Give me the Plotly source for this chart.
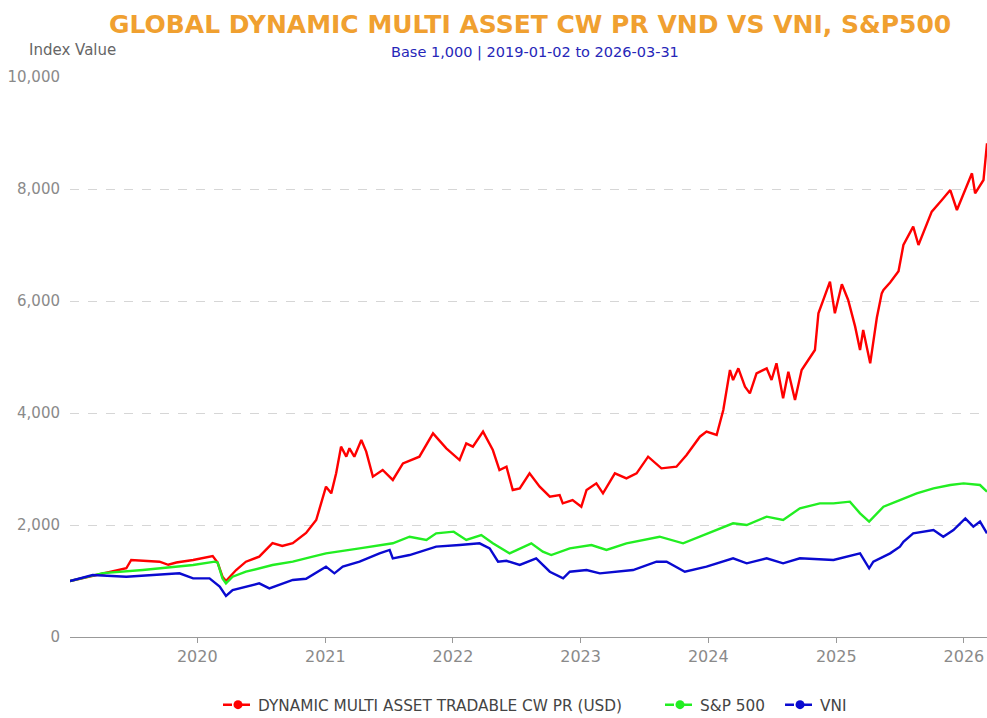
import plotly.graph_objects as go

red_dates = ["2019-01-02","2019-03-08","2019-04-06","2019-06-12","2019-06-26","2019-07-29","2019-09-15","2019-10-10","2019-11-02","2019-12-20",
"2020-02-14","2020-02-28","2020-03-13","2020-03-23","2020-04-21","2020-05-19","2020-06-26","2020-08-03","2020-08-31","2020-09-30",
"2020-11-07","2020-12-06","2021-01-03","2021-01-18","2021-02-01","2021-02-15","2021-03-02","2021-03-11","2021-03-25","2021-04-14",
"2021-04-28","2021-05-17","2021-06-14","2021-07-13","2021-08-11","2021-09-27","2021-11-05","2021-12-13","2022-01-20","2022-02-08",
"2022-02-27","2022-03-28","2022-04-25","2022-05-14","2022-06-03","2022-06-21","2022-07-11","2022-08-08","2022-09-06","2022-10-05",
"2022-11-02","2022-11-11","2022-12-09","2023-01-03","2023-01-18","2023-02-15","2023-03-06","2023-04-09","2023-05-12","2023-06-10",
"2023-07-13","2023-08-20","2023-10-02","2023-10-31","2023-12-08","2023-12-27","2024-01-25","2024-02-13","2024-03-03","2024-03-12",
"2024-03-27","2024-04-15","2024-04-29","2024-05-18","2024-06-16","2024-06-30","2024-07-14","2024-08-02","2024-08-17","2024-09-05",
"2024-09-24","2024-10-13","2024-11-01","2024-11-11","2024-11-25","2024-12-14","2024-12-28","2025-01-17","2025-02-04","2025-02-24",
"2025-03-10","2025-03-19","2025-04-08","2025-04-27","2025-05-11","2025-05-16","2025-06-04","2025-06-28","2025-07-12","2025-08-09",
"2025-08-24","2025-10-01","2025-10-30","2025-11-23","2025-12-12","2026-01-24","2026-02-02","2026-02-26","2026-03-08"]
red_values = [1000,1090,1140,1227,1375,1360,1345,1290,1330,1375,
1446,1330,1077,1000,1196,1345,1434,1677,1625,1677,
1857,2089,2684,2565,2923,3399,3220,3370,3220,3518,
3310,2863,2982,2804,3101,3220,3637,3370,3160,3458,
3399,3667,3339,2982,3041,2625,2655,2923,2684,2506,
2536,2387,2446,2327,2625,2744,2565,2923,2833,2923,
3220,3012,3041,3250,3577,3667,3607,4054,4768,4589,
4798,4470,4351,4708,4798,4589,4887,4262,4738,4232,
4768,4946,5125,5780,6018,6345,5780,6300,6018,5542,
5125,5482,4887,5700,6137,6196,6330,6530,7000,7327,
7000,7595,7804,7982,7625,8280,7923,8161,8815]

spx_dates = ["2019-01-02","2019-04-06","2019-07-29","2019-12-20","2020-02-20","2020-02-28","2020-03-13","2020-03-23","2020-04-11","2020-05-19",
"2020-08-03","2020-09-30","2020-11-26","2021-01-03","2021-04-09","2021-07-13","2021-08-30","2021-10-17","2021-11-14","2022-01-03",
"2022-02-08","2022-03-23","2022-04-25","2022-06-12","2022-08-13","2022-09-15","2022-10-09","2022-12-01","2023-02-01","2023-03-16",
"2023-05-12","2023-08-15","2023-10-21","2023-12-08","2024-03-12","2024-04-20","2024-06-16","2024-08-02","2024-09-19","2024-11-15",
"2024-12-24","2025-02-09","2025-03-10","2025-04-05","2025-05-16","2025-07-02","2025-08-19","2025-10-06","2025-11-23","2025-12-31",
"2026-02-16","2026-03-08"]
spx_values = [1000,1140,1196,1286,1345,1330,1047,958,1077,1166,
1286,1345,1434,1494,1583,1673,1791,1732,1851,1881,
1732,1821,1673,1494,1673,1524,1464,1583,1643,1554,
1673,1791,1673,1791,2030,2000,2149,2089,2297,2387,
2387,2417,2208,2060,2327,2446,2565,2655,2714,2744,
2714,2595]

vni_dates = ["2019-01-02","2019-03-08","2019-06-12","2019-09-15","2019-11-11","2019-12-20","2020-02-05","2020-03-05","2020-03-23","2020-04-11",
"2020-05-19","2020-06-26","2020-07-25","2020-09-30","2020-11-07","2021-01-03","2021-01-27","2021-02-20","2021-04-09","2021-06-05",
"2021-07-04","2021-07-13","2021-08-30","2021-11-14","2022-01-20","2022-03-18","2022-04-16","2022-05-10","2022-06-03","2022-07-11",
"2022-08-27","2022-10-05","2022-11-12","2022-12-01","2023-01-18","2023-02-25","2023-05-31","2023-08-06","2023-09-04","2023-10-26",
"2023-12-27","2024-03-12","2024-04-20","2024-06-16","2024-08-02","2024-09-19","2024-12-24","2025-03-10","2025-04-05","2025-04-17",
"2025-06-04","2025-07-02","2025-07-12","2025-08-09","2025-10-06","2025-11-03","2025-12-02","2026-01-05","2026-01-28","2026-02-16",
"2026-03-08"]
vni_values = [1000,1107,1077,1107,1137,1047,1047,899,732,839,
899,958,869,1018,1040,1256,1137,1256,1345,1494,
1554,1405,1464,1613,1643,1673,1583,1345,1360,1286,
1405,1166,1047,1166,1196,1137,1196,1345,1345,1166,
1256,1405,1315,1405,1315,1405,1375,1494,1226,1345,
1494,1613,1700,1851,1910,1791,1910,2119,1970,2060,
1851]

series_names = ["DYNAMIC MULTI ASSET TRADABLE CW PR (USD)", "S&P 500", "VNI"]
series_colors = ["#ff0000", "#22ee22", "#0a0ad0"]
y_ticks = [0, 2000, 4000, 6000, 8000, 10000]
title_text = "GLOBAL DYNAMIC MULTI ASSET CW PR VND VS VNI, S&P500"
subtitle_text = "Base 1,000 | 2019-01-02 to 2026-03-31"
y_title = "Index Value"

FONT = "DejaVu Sans"
fig = go.Figure()
data = [(red_dates, red_values), (spx_dates, spx_values), (vni_dates, vni_values)]
for (d, v), name, col in zip(data, series_names, series_colors):
    fig.add_trace(go.Scatter(x=d, y=v, mode="lines", line=dict(color=col, width=2.4),
                             showlegend=False, name=name))
legend_ids = ["legend", "legend2", "legend3"]
legend_x = [0.1614, 0.6434, 0.7743]
for name, col, lid in zip(series_names, series_colors, legend_ids):
    fig.add_trace(go.Scatter(x=[None], y=[None], mode="lines+markers", name=name,
                             line=dict(color=col, width=2.5, dash="dash"),
                             marker=dict(color=col, size=9), legend=lid))

leg_common = dict(orientation="h", xanchor="left", yref="container", y=0.0185, yanchor="middle",
                  font=dict(size=15.3, color="#444"), bgcolor="rgba(0,0,0,0)")
fig.update_layout(
    width=987, height=718,
    margin=dict(l=70, r=0, t=77, b=81, autoexpand=False),
    paper_bgcolor="white", plot_bgcolor="white",
    font=dict(family=FONT, size=14, color="#888"),
    showlegend=True,
    legend=dict(x=legend_x[0], **leg_common),
    legend2=dict(x=legend_x[1], **leg_common),
    legend3=dict(x=legend_x[2], **leg_common),
    xaxis=dict(range=["2019-01-02", "2026-03-08"], showgrid=False, showline=True,
               linecolor="#999", linewidth=1, ticks="outside", ticklen=5, tickcolor="#999",
               tickformat="%Y", dtick="M12", tick0="2020-01-01", zeroline=False,
               tickfont=dict(size=16, color="#8a8a8a")),
    yaxis=dict(range=[0, 10000], tickvals=y_ticks, tickformat=",", showgrid=True,
               gridcolor="#d6d6d6", griddash="dash", zeroline=False, showline=False,
               tickfont=dict(size=15, color="#8a8a8a"), ticklabelstandoff=9),
    annotations=[
        dict(text="<b>" + title_text + "</b>", xref="paper", yref="paper", x=0.502, y=1.093,
             xanchor="center", yanchor="middle", showarrow=False,
             font=dict(family=FONT, size=25, color="#f0a030")),
        dict(text=subtitle_text, xref="paper", yref="paper", x=0.507, y=1.043,
             xanchor="center", yanchor="middle", showarrow=False,
             font=dict(family=FONT, size=14.5, color="#2626b8")),
        dict(text=y_title, xref="paper", yref="paper", x=-0.047, y=1.048,
             xanchor="left", yanchor="middle", showarrow=False,
             font=dict(family=FONT, size=15, color="#666")),
    ],
)
fig.write_html("out.html", config={"displayModeBar": False},
               post_script="document.body.style.margin='0';document.body.style.overflow='hidden';")
